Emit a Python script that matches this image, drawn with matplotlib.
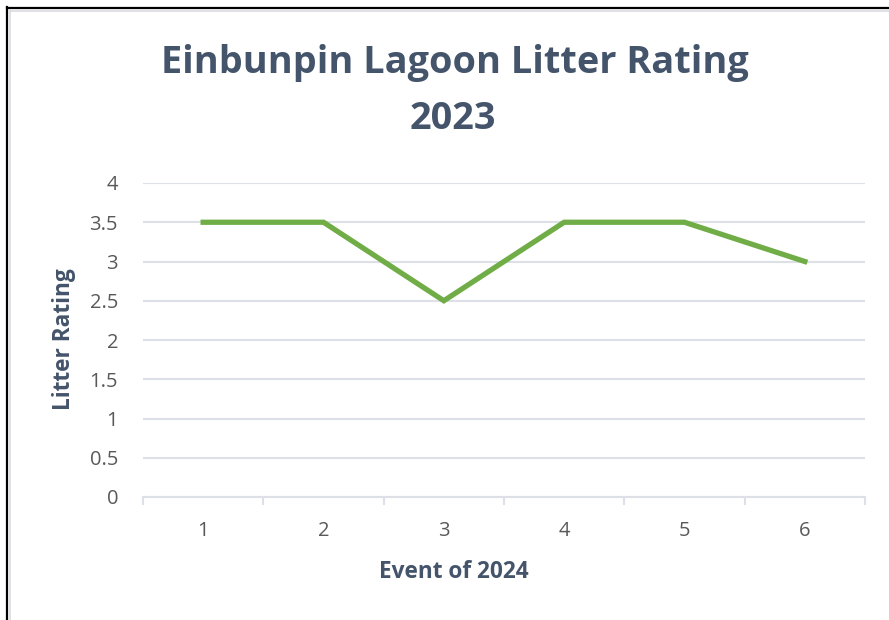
import matplotlib.pyplot as plt
from matplotlib.lines import Line2D

events = [1, 2, 3, 4, 5, 6]
ratings = [3.5, 3.5, 2.5, 3.5, 3.5, 3.0]
y_ticks = [0, 0.5, 1, 1.5, 2, 2.5, 3, 3.5, 4]
y_tick_labels = ['0', '0.5', '1', '1.5', '2', '2.5', '3', '3.5', '4']

W, H = 889, 620
title_color = '#44546A'
label_color = '#595959'
grid_color = '#DDE0E6'

plt.rcParams['font.family'] = ['Open Sans', 'DejaVu Sans']

fig = plt.figure(figsize=(W / 100, H / 100), dpi=100)
fig.patch.set_facecolor('white')

# outer black frame (left and top only, picture is cropped) and grey chart border
fig.add_artist(Line2D([7 / W, 7 / W], [0, 1 - 7 / H], color='black', lw=1.6, transform=fig.transFigure))
fig.add_artist(Line2D([7 / W, 1], [1 - 8 / H, 1 - 8 / H], color='black', lw=1.6, transform=fig.transFigure))
fig.add_artist(Line2D([10 / W, 10 / W], [0, 1 - 10 / H], color='#D9DCE2', lw=1.2, transform=fig.transFigure))
fig.add_artist(Line2D([10 / W, 1], [1 - 11 / H, 1 - 11 / H], color='#D9DCE2', lw=1.2, transform=fig.transFigure))

left, right, top, bottom = 143, 865, 183, 497
ax = fig.add_axes([left / W, 1 - bottom / H, (right - left) / W, (bottom - top) / H])

ax.plot(events, ratings, color='#70AD47', lw=3.8, solid_joinstyle='miter', zorder=3)

ax.set_xlim(0.5, 6.5)
ax.set_ylim(0, 4)
ax.set_yticks(y_ticks)
ax.set_yticklabels(y_tick_labels)
ax.set_xticks(events)
ax.set_xticks([0.5 + i for i in range(7)], minor=True)
ax.yaxis.grid(True, color=grid_color, lw=1.5, zorder=0)
ax.set_axisbelow(True)

for s in ['top', 'right', 'left']:
    ax.spines[s].set_visible(False)
ax.spines['bottom'].set_color(grid_color)
ax.spines['bottom'].set_linewidth(1.5)

ax.tick_params(axis='y', length=0, pad=18, labelsize=14.5, labelcolor=label_color)
ax.tick_params(axis='x', which='major', length=0, pad=17, labelsize=14.5, labelcolor=label_color)
ax.tick_params(axis='x', which='minor', length=6, width=1.5, color=grid_color)

# axis titles sit where Excel put them (x title centred on the chart area)
fig.text(454 / W, 1 - 572 / H, 'Event of 2024', ha='center', va='center',
         fontsize=16.3, fontweight='bold', color=title_color)
fig.text(64 / W, 1 - 339 / H, 'Litter Rating', ha='center', va='center', rotation=90,
         fontsize=16.3, fontweight='bold', color=title_color)

fig.text(455 / W, 1 - 63 / H, 'Einbunpin Lagoon Litter Rating', ha='center', va='center',
         fontsize=27.3, fontweight='bold', color=title_color)
fig.text(453 / W, 1 - 119 / H, '2023', ha='center', va='center',
         fontsize=27.3, fontweight='bold', color=title_color)

fig.savefig('out.png', dpi=100)
